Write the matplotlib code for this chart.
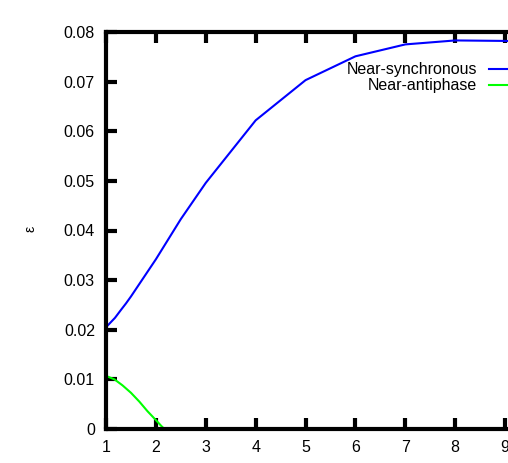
import numpy as np
import matplotlib
matplotlib.use('Agg')
import matplotlib.pyplot as plt

plt.rcParams['font.family'] = ['Liberation Sans', 'DejaVu Sans']

# values
x_sync = [1.0, 1.18, 1.3, 1.4, 1.5, 2.0, 2.5, 3.0, 4.0, 5.0, 6.0, 7.0, 8.0, 9.0, 10.0]
y_sync = [0.0205, 0.0224, 0.0240, 0.0253, 0.0267, 0.0342, 0.0423, 0.0496, 0.0622, 0.0703, 0.0751,
          0.0775, 0.0783, 0.0782, 0.0780]

x_anti = [1.0, 1.17, 1.33, 1.5, 1.67, 1.83, 2.0, 2.1, 2.17]
y_anti = [0.0107, 0.0100, 0.0088, 0.0073, 0.0055, 0.0036, 0.0018, 0.0007, 0.0]

fig = plt.figure(figsize=(5.08, 4.63), dpi=100)
ax = fig.add_axes([106 / 508, 34 / 463, 449 / 508, 397 / 463])

ax.plot(x_sync, y_sync, color='#0000ff', lw=1.5, label='Near-synchronous')
ax.plot(x_anti, y_anti, color='#00ff00', lw=1.5, label='Near-antiphase')

ax.set_xlim(1, 10)
ax.set_ylim(0, 0.08)
ax.set_xticks(range(1, 11))
ax.set_yticks(np.arange(0, 0.081, 0.01))
ax.set_yticklabels(['0', '0.01', '0.02', '0.03', '0.04', '0.05', '0.06', '0.07', '0.08'])

for s in ax.spines.values():
    s.set_linewidth(3)
ax.tick_params(direction='in', length=8, width=3, top=True, right=True,
               labelsize=11.5, pad=8)
ax.tick_params(axis='x', pad=8)

ax.set_ylabel('ε', fontsize=10)
ax.yaxis.set_label_coords(-0.152, 0.505)

leg = ax.legend(loc='upper right', bbox_to_anchor=(0.973, 0.94), frameon=False,
                markerfirst=False, fontsize=11.5, handlelength=3.0, handletextpad=0.7,
                labelspacing=0.08, borderaxespad=0)
for t in leg.get_texts():
    t.set_ha('right')

fig.savefig('out.png', dpi=100)
